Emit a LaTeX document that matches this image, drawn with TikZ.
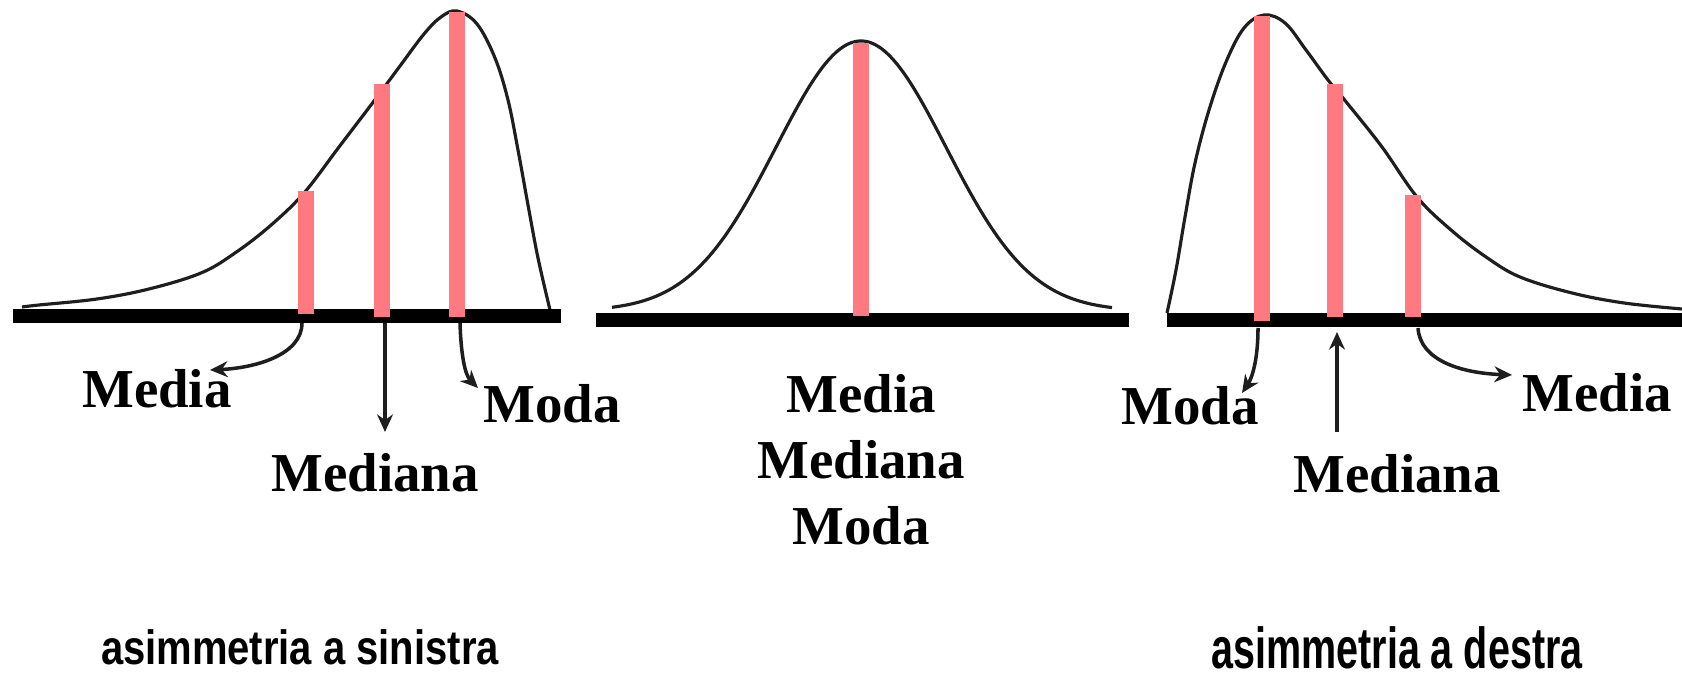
\documentclass[tikz,border=0pt]{standalone}
\usepackage{fontspec}
\setmainfont{Liberation Serif}
\newfontfamily\didafont{Liberation Sans}
\usetikzlibrary{arrows.meta}
\definecolor{barPink}{RGB}{255,122,128}
\definecolor{inkDark}{RGB}{30,30,30}

\begin{document}
\begin{tikzpicture}[x=0.01cm,y=-0.01cm,
          asse/.style={black,line width=4pt},
          curva/.style={inkDark,line width=0.9pt},
          barra/.style={barPink,line width=4.8pt},
          etic/.style={font=\bfseries\fontsize{15.6}{18.7}\selectfont,
                       inner sep=0pt,anchor=base},
          freccia/.style={-{Stealth[length=5pt,width=4.5pt]},inkDark,line width=1pt},
          didasc/.style={font=\didafont\bfseries\fontsize{13.7}{16}\selectfont,
                         inner sep=0pt,anchor=base},
        ]
        \useasboundingbox (0,0) rectangle (1682,674);

        % ASIMMETRIA A SINISTRA
        \draw[curva] plot[smooth,tension=0.6] coordinates {(22,307) (39,305) (97,299)
          (149,289) (201,273) (235,253) (270,226) (304,193) (339,147) (374,101)
          (400,66) (424,34) (441,17) (457,11) (477,24) (495,58) (508,100)
          (518,150) (528,205) (538,258) (550,310)};
        \draw[asse](13,316)--(561,316);
        \draw[barra](306,191)--(306,314);
        \draw[barra](382,84)--(382,317);
        \draw[barra](457,12)--(457,317);
        \node[etic](mediaSin)   at (157,408){Media};
        \node[etic](medianaSin) at (375,492){Mediana};
        \node[etic](modaSin)    at (552,423){Moda};
        \coordinate (mediaSinA)   at (302,323);
        \coordinate (mediaSinB)   at (210,370);
        \coordinate (medianaSinA) at (385,323);
        \coordinate (medianaSinB) at (385,432);
        \coordinate (modaSinA)    at (460,323);
        \coordinate (modaSinB)    at (478,388);
        \draw[freccia](mediaSinA) .. controls (302,355) and (255,368) .. (mediaSinB);
        \draw[freccia](medianaSinA)--(medianaSinB);
        \draw[freccia](modaSinA) .. controls (461,355) and (465,375) .. (modaSinB);
        \node[didasc](didaSin) at (300,665){\scalebox{0.83}[1]{asimmetria a sinistra}};

        % SIMMETRICA
        \draw[curva] plot[domain=612:1112,samples=120,smooth]
          (\x,{311-270*exp(-((\x-861)/85)^2/2)});
        \draw[asse](596,320)--(1129,320);
        \draw[barra](861,43)--(861,316);
        \node[etic,align=center,anchor=north](tuttiSim) at (861,374)
          {Media\\Mediana\\Moda};

        % ASIMMETRIA A DESTRA
        \draw[curva] plot[smooth,tension=0.6] coordinates {(1167,313) (1176,270)
          (1185,217) (1195,163) (1209,110) (1226,62) (1244,28) (1264,15)
          (1285,23) (1306,50) (1328,80) (1347,103) (1382,147) (1417,197)
          (1451,230) (1486,257) (1520,277) (1572,293) (1624,303) (1682,309)};
        \draw[asse](1167,320)--(1682,320);
        \draw[barra](1262,16)--(1262,321);
        \draw[barra](1335,84)--(1335,317);
        \draw[barra](1413,195)--(1413,317);
        \node[etic](modaDes)    at (1190,425){Moda};
        \node[etic](medianaDes) at (1397,493){Mediana};
        \node[etic](mediaDes)   at (1597,412){Media};
        \coordinate (modaDesA)    at (1258,328);
        \coordinate (modaDesB)    at (1242,393);
        \coordinate (medianaDesA) at (1337,432);
        \coordinate (medianaDesB) at (1337,332);
        \coordinate (mediaDesA)   at (1418,328);
        \coordinate (mediaDesB)   at (1512,375);
        \draw[freccia](modaDesA) .. controls (1258,360) and (1252,378) .. (modaDesB);
        \draw[freccia](medianaDesA)--(medianaDesB);
        \draw[freccia](mediaDesA) .. controls (1420,360) and (1460,373) .. (mediaDesB);
        \node[didasc](didaDes) at (1397,669){\scalebox{0.82}[1.2]{asimmetria a destra}};
      \end{tikzpicture}
\end{document}
